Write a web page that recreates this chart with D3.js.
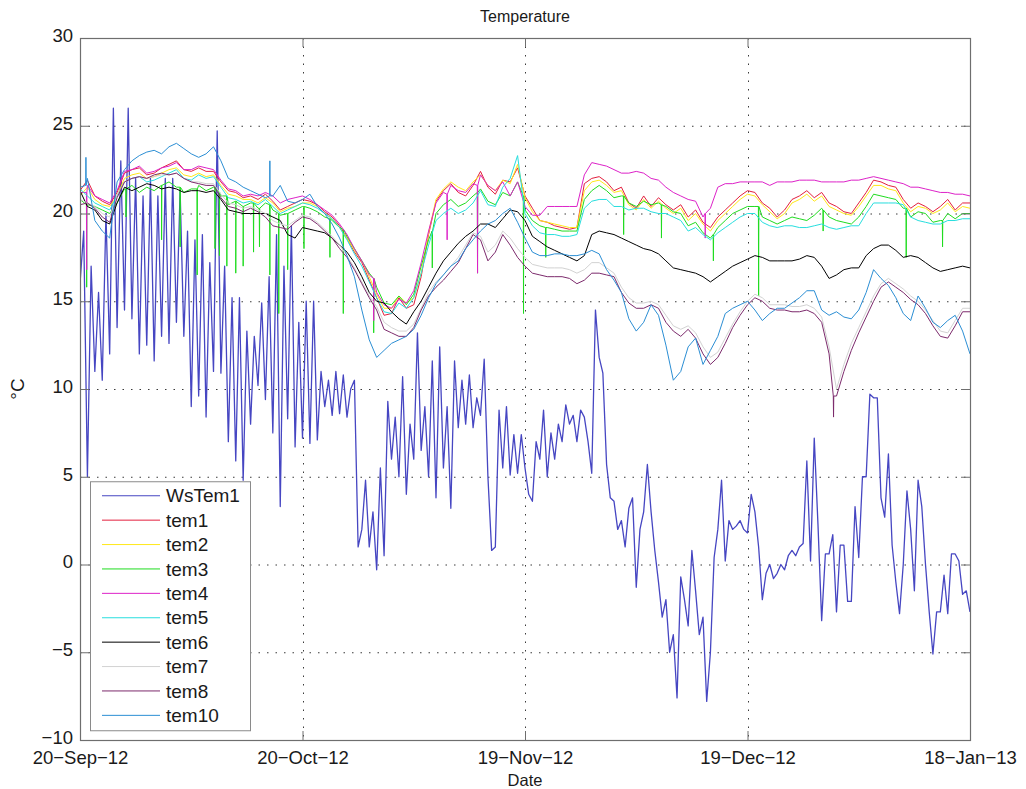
<!DOCTYPE html>
<html>
<head>
<meta charset="utf-8">
<script src="https://cdn.jsdelivr.net/npm/d3@7"></script>
<style>
body { margin: 0; background: #fff; }
text { font-family: "Liberation Sans", Arial, sans-serif; fill: #1a1a1a; }
</style>
</head>
<body>
<div id="chart"></div>
<script>
// ---- data ----
var startDay = "2012-09-20";
var tickDates = ["2012-09-20", "2012-10-20", "2012-11-19", "2012-12-19", "2013-01-18"];
var yTicks = [-10, -5, 0, 5, 10, 15, 20, 25, 30];
var seriesNames = ["WsTem1", "tem1", "tem2", "tem3", "tem4", "tem5", "tem6", "tem7", "tem8", "tem10"];
var seriesColors = ["#4646c2", "#e3203e", "#ffe81a", "#1fdc1f", "#dd22c8", "#27dede", "#000000", "#d2d2d2", "#7c2a6c", "#2b8ed4"];

// outdoor sensor, one value every half day
var wsTem1 = [
  16, 19, 5, 17, 11, 15.5, 10.5, 20, 12, 26, 13.5, 23, 14.5, 26, 14, 22, 12, 21, 12.5, 22,
  11.6, 21, 13, 22, 12.6, 22, 13.8, 21.3, 13, 19, 9, 18.5, 9.6, 18.8, 8.4, 17.2, 11, 24.7, 10.9, 17,
  7, 15.2, 5.9, 15.2, 4.8, 13.3, 8, 13, 10.2, 14.9, 9.4, 16.4, 7.5, 18.8, 3.3, 17, 8.3, 19.3, 6.7, 13.8,
  7.2, 15, 6.9, 15, 7.1, 11, 9, 10.5, 8.5, 11, 8.6, 10.8, 8.4, 10, 10.5, 1, 2, 4.8, 1, 3,
  -0.3, 5.5, 0.5, 9.3, 6, 8.4, 5, 10.7, 4, 8, 6, 13.2, 6.5, 9, 5, 11.6, 3.8, 12.4, 5.5, 9,
  3.2, 11.6, 7.8, 10.5, 8, 10.8, 7.8, 9.5, 8.5, 11.7, 5, 0.8, 1, 8.8, 5.5, 9, 5.1, 7.4, 5.2, 7.4,
  5.5, 4, 3.6, 7, 6, 8.8, 5, 7.5, 6, 8, 7, 9.1, 8, 8.5, 7, 8.8, 8.4, 7, 5.2, 14.5,
  11.8, 10.9, 5.7, 3.8, 3.6, 2, 2.5, 1, 3.2, 3.8, -1.3, 2, 3, 5.7, 3, 0.8, -1, -3, -2, -5,
  -4, -7.6, -0.7, -2, -3.5, 0.8, -1.5, -4, -3, -7.8, -5, 0.4, 2, 4.8, 0.2, 2.5, 2, 2.2, 2.5, 2,
  1.8, 4, 3, 1, -2, -0.5, 0, -0.8, -0.5, 0, -0.3, 0.5, 0.8, 0.5, 1, 1.2, 5.9, 0.2, 7.2, 2.3,
  -3.2, 0.6, 0.6, 1.7, -2.7, 1.1, 1.1, -2.1, -2.1, 3.3, 0.4, 5, 5, 9.7, 9.5, 9.5, 3.8, 2.7, 6.3, 1.1,
  -1, -2.8, 0, 4.2, 2, -1.5, 4.8, 3.3, 0, -2.7, -5.1, -2.7, -2.7, -0.6, -2.8, 0.6, 0.6, 0.2, -1.7, -1.5,
  -2.7
];

// indoor sensors, one value per day
var tem1 = [
  21.3, 21.9, 21.0, 20.7, 20.5, 21.2, 22.3, 22.5, 22.6, 22.2,
  22.3, 22.6, 22.8, 23.0, 22.5, 22.4, 22.6, 22.4, 22.4, 21.8,
  21.3, 21.2, 20.9, 21.0, 20.8, 21.1, 20.7, 20.2, 20.4, 20.6,
  20.8, 20.7, 20.5, 20.1, 19.8, 19.3, 18.6, 17.8, 17.2, 16.2,
  15.2, 14.2, 14.3, 15.2, 14.6, 14.8, 16.4, 18.8, 20.7, 21.3,
  21.7, 21.2, 21.0, 21.6, 22.4, 21.5, 21.1, 21.9, 21.8, 22.6,
  21.0, 20.3, 19.6, 19.5, 19.3, 19.2, 19.1, 19.2, 21.7, 22.0,
  22.1, 21.8, 21.3, 21.5, 20.6, 20.3, 21.0, 20.4, 20.9, 20.5,
  20.2, 20.5, 19.8, 20.2, 19.5, 19.2, 19.8, 20.2, 20.6, 21.0,
  21.3, 21.2, 20.6, 20.3, 19.8, 20.2, 20.8, 21.0, 21.3, 20.9,
  21.2, 20.6, 20.4, 20.1, 20.0, 20.6, 21.2, 21.9, 21.8, 21.6,
  21.5, 20.8, 20.3, 20.6, 20.4, 20.1, 20.4, 20.8, 20.2, 20.6,
  20.6
];
var tem2 = [
  21.0, 21.5, 20.8, 20.5, 20.4, 21.0, 22.0, 22.2, 22.3, 22.0,
  22.1, 22.3, 22.5, 22.6, 22.2, 22.1, 22.3, 22.1, 22.2, 21.6,
  21.1, 21.0, 20.8, 20.8, 20.6, 20.9, 20.6, 20.1, 20.3, 20.4,
  20.6, 20.6, 20.4, 20.0, 19.7, 19.2, 18.6, 17.9, 17.3, 16.4,
  15.4, 14.6, 14.6, 15.3, 14.9, 15.2, 16.6, 18.9, 20.8, 21.4,
  21.8, 21.5, 21.3, 21.8, 22.2, 21.6, 21.3, 21.9, 21.7, 22.8,
  20.9, 20.1, 19.6, 19.5, 19.4, 19.3, 19.2, 19.2, 21.3, 21.8,
  21.9, 21.6, 21.2, 21.3, 20.5, 20.2, 20.8, 20.3, 20.7, 20.3,
  20.0, 20.3, 19.6, 20.0, 19.4, 19.0, 19.6, 20.0, 20.4, 20.8,
  21.1, 21.0, 20.5, 20.1, 19.7, 20.0, 20.6, 20.8, 21.1, 20.7,
  21.0, 20.4, 20.2, 20.0, 19.9, 20.4, 21.0, 21.6, 21.6, 21.4,
  21.3, 20.6, 20.1, 20.4, 20.3, 20.0, 20.2, 20.6, 20.1, 20.4,
  20.3
];
var tem3 = [
  20.8, 20.5, 20.4, 20.2, 20.0, 20.6, 21.4, 21.6, 21.2, 21.5,
  21.3, 21.6, 21.8, 21.5, 21.2, 21.4, 21.6, 21.3, 21.5, 21.0,
  20.5, 20.7, 20.4, 20.6, 20.3, 20.6, 20.2, 19.9, 20.0, 20.2,
  20.4, 20.3, 20.1, 19.8, 19.6, 19.2, 18.7, 18.0, 17.3, 16.6,
  15.8, 14.9, 14.8, 15.3, 14.8, 15.4, 17.0, 18.5, 20.0, 20.5,
  20.8, 20.4, 20.6, 21.0, 21.4, 20.7, 20.5, 21.2, 21.0, 21.8,
  20.2, 19.6, 19.3, 19.2, 19.1, 19.0, 19.0, 19.0, 20.8, 21.3,
  21.6, 21.3, 20.9, 21.0, 20.6, 20.4, 20.7, 20.5, 20.6, 20.4,
  20.1, 20.0, 19.3, 19.5, 18.9, 18.6, 19.2, 19.6, 20.0, 20.2,
  20.4, 20.4, 19.8, 19.6, 19.4, 19.6, 19.8, 19.7, 19.6, 19.9,
  20.3, 19.8, 19.6, 19.5, 19.4, 19.8, 20.4, 21.1, 21.0, 20.9,
  20.8, 20.3, 19.8, 20.1, 20.0, 19.5, 19.6, 20.0, 19.7, 20.0,
  20.0
];
var tem4 = [
  21.2, 21.6, 21.0, 20.8, 20.6, 21.3, 22.4, 22.5, 22.7, 22.3,
  22.4, 22.6, 22.7, 22.9, 22.5, 22.5, 22.7, 22.6, 22.5, 21.9,
  21.4, 21.3, 21.0, 21.1, 21.0, 21.2, 21.0, 20.6, 20.8, 20.9,
  21.0, 20.8, 20.5, 20.2, 19.9, 19.4, 18.8, 18.0, 17.3, 16.5,
  15.5, 14.8, 14.6, 15.1, 14.9, 15.6, 17.2, 19.0, 20.6, 21.2,
  21.6, 21.3, 21.2, 21.7, 22.2, 21.6, 21.3, 21.8, 21.0, 21.8,
  20.4, 19.9, 19.9, 20.4, 20.4, 20.4, 20.4, 20.4, 22.2, 22.9,
  22.8, 22.7, 22.5, 22.3, 22.3, 22.4, 22.3, 22.0, 21.9, 21.5,
  21.2, 21.0, 20.8, 20.7, 19.8, 20.3, 21.5, 21.7, 21.7, 21.8,
  21.8, 21.8, 21.8, 21.6, 21.8, 21.8, 21.8, 21.9, 21.9, 21.9,
  21.8, 21.8, 21.8, 21.8, 21.9, 21.9, 22.0, 22.1, 22.0, 21.9,
  21.8, 21.7, 21.5, 21.5, 21.4, 21.3, 21.2, 21.2, 21.1, 21.1,
  21.0
];
var tem5 = [
  21.4, 21.0, 20.6, 20.4, 20.2, 21.0, 21.8, 22.0, 22.1, 21.8,
  21.9, 22.1, 22.3, 22.5, 22.0, 21.9, 22.2, 22.0, 22.1, 21.5,
  20.9, 20.8, 20.6, 20.7, 20.5, 20.8, 20.4, 20.0, 20.2, 20.4,
  20.6, 20.5, 20.3, 20.0, 19.7, 19.2, 18.5, 17.7, 17.0, 16.1,
  15.2, 14.4, 14.3, 14.9, 14.6, 15.2, 16.6, 18.2, 19.6, 20.0,
  20.3, 20.0, 20.2, 20.6, 21.3, 20.5, 20.4, 21.5, 22.0, 23.3,
  20.0, 19.3, 18.9, 18.8, 18.8, 18.7, 18.7, 18.8, 20.3, 20.7,
  20.8, 20.8, 20.4, 20.4, 20.2, 20.3, 20.3, 20.1, 20.0, 20.0,
  19.8, 19.6, 19.0, 19.2, 18.8, 18.5, 18.9, 19.2, 19.5, 19.8,
  20.0, 20.0, 19.5, 19.3, 19.2, 19.3, 19.3, 19.2, 19.2, 19.3,
  19.4, 19.2, 19.1, 19.2, 19.3, 19.3, 20.0, 20.6, 20.6, 20.6,
  20.6, 20.5, 19.8, 19.6, 19.5, 19.4, 19.4, 19.6, 19.6, 19.7,
  19.7
];
var tem6 = [
  21.3, 20.4, 20.2, 19.6, 19.4, 20.6, 21.5, 21.3, 21.5, 21.7,
  21.6, 21.4, 21.5, 21.4, 21.2, 21.3, 21.3, 21.2, 21.3, 20.8,
  20.2, 20.1, 20.0, 20.0, 20.0, 20.0, 19.8, 19.6, 18.8, 18.6,
  19.2, 19.1, 19.0, 18.9, 18.6, 18.2, 17.8, 17.2, 16.4, 15.5,
  15.0, 14.9, 14.4, 14.0, 13.7, 14.4, 15.0, 15.8, 16.6, 17.3,
  17.8, 18.3, 18.7, 19.0, 19.4, 19.4, 19.2, 19.7, 20.2, 20.1,
  19.6, 18.7, 18.4, 18.1, 17.9, 17.7, 17.5, 17.3, 17.6, 18.8,
  19.0, 18.9, 18.8, 18.6, 18.4, 18.2, 18.0, 17.9, 17.7, 17.3,
  16.9, 16.8, 16.7, 16.6, 16.4, 16.1, 16.4, 16.7, 17.0, 17.2,
  17.4, 17.6, 17.5, 17.3, 17.3, 17.3, 17.3, 17.4, 17.6, 17.5,
  17.0, 16.3, 16.5, 16.8, 16.9, 16.9, 17.6, 18.0, 18.2, 18.2,
  17.9, 17.5, 17.6, 17.5, 17.2, 16.9, 16.7, 16.8, 16.9, 17.0,
  16.9
];
var tem7 = [
  20.8, 20.6, 20.4, 20.0, 19.8, 21.0, 21.8, 22.0, 22.1, 22.0,
  22.1, 22.2, 22.2, 22.3, 22.0, 21.8, 21.8, 21.7, 21.7, 21.1,
  20.6, 20.5, 20.3, 20.4, 20.2, 20.0, 19.6, 19.4, 19.3, 19.6,
  19.9, 19.8, 19.5, 19.1, 18.7, 18.2, 17.6, 16.9, 16.1, 15.3,
  14.7, 13.8, 13.5, 13.3, 13.3, 13.7, 14.6, 15.5, 16.1, 16.5,
  17.0, 17.5, 18.2, 18.9, 18.7, 17.8, 18.2, 19.0, 18.6, 18.0,
  17.5, 17.1, 17.0, 16.9, 16.9, 16.9, 16.8, 16.6, 16.8, 17.2,
  17.2, 16.9, 16.6, 15.8, 15.2, 14.9, 14.9, 15.0, 14.8, 14.2,
  13.6, 13.4, 13.6, 13.2, 12.4, 11.8, 12.1, 12.9, 13.7, 14.4,
  15.0, 15.4, 15.2, 14.8, 14.8, 14.8, 14.7, 14.7, 14.8, 14.6,
  14.1, 12.4, 10.0, 11.4, 12.6, 13.5, 14.4, 15.3, 16.0, 16.3,
  16.0, 15.7, 15.3, 15.0, 14.5, 13.9, 13.3, 13.2, 13.9, 14.6,
  14.6
];
var tem8 = [
  20.5, 20.6, 20.3, 19.8, 19.5, 20.9, 21.8, 22.0, 22.1, 22.0,
  22.2, 22.3, 22.2, 22.3, 22.0, 21.8, 21.7, 21.6, 21.6, 20.9,
  20.4, 20.3, 20.1, 20.3, 20.1, 19.8, 19.3, 19.2, 19.1, 19.5,
  19.8, 19.7, 19.4, 19.0, 18.6, 18.0, 17.5, 16.8, 16.0, 15.2,
  14.5, 13.4, 13.2, 13.0, 13.0, 13.5, 14.5, 15.3, 15.8, 16.2,
  16.7, 17.2, 18.0, 18.8, 18.5, 17.3, 17.8, 18.8, 18.2, 17.5,
  17.0, 16.6, 16.5, 16.4, 16.4, 16.4, 16.3, 16.0, 16.2, 16.6,
  16.6, 16.5, 16.4, 15.5, 14.9, 14.6, 14.6, 14.8, 14.6, 13.8,
  13.3, 13.0, 13.4, 12.9, 12.0, 11.4, 11.8, 12.6, 13.5, 14.2,
  14.8, 15.2, 15.0, 14.6, 14.5, 14.5, 14.4, 14.4, 14.5, 14.3,
  13.8, 12.0, 9.6, 11.0, 12.2, 13.2, 14.1, 15.0, 15.8, 16.1,
  15.8, 15.5, 15.1, 14.8, 14.3, 13.6, 13.0, 12.9, 13.6, 14.4,
  14.4
];
var tem10 = [
  21.5, 22.0, 19.6, 19.0, 18.6, 21.8, 22.5, 23.0, 23.3, 23.5,
  23.6, 23.4, 23.8, 24.0, 23.7, 23.4, 23.2, 23.4, 23.8, 23.0,
  22.0, 21.8, 21.5, 21.3, 21.1, 20.9, 21.0, 21.6, 20.7, 20.6,
  20.8, 21.1, 20.4, 20.0, 19.4, 18.6, 17.6, 16.4, 14.5, 12.8,
  11.8, 12.2, 12.6, 12.8, 13.0, 13.4, 14.2, 15.2, 16.0, 16.5,
  17.0, 17.3, 18.0, 18.5, 19.0, 19.4, 19.6, 20.0, 20.3, 19.5,
  18.6, 17.8, 17.6, 17.6, 17.7, 17.7, 17.6, 17.6, 17.7, 17.9,
  17.7, 16.8, 16.2, 15.5, 14.0, 13.3, 13.8, 14.8, 14.2, 12.5,
  10.5, 11.0, 12.4, 12.9, 11.4, 12.2, 13.0, 14.3, 14.6, 14.8,
  15.0, 14.5, 13.9, 14.3, 14.6, 14.6, 14.9, 15.2, 15.6, 15.6,
  14.5, 14.2, 14.4, 14.1, 14.0, 14.5, 15.5, 16.8, 16.3, 15.9,
  15.2, 14.3, 13.9, 15.3, 14.6, 13.8, 13.5, 13.9, 14.2, 13.3,
  12.0
];

// short spikes: [day, extreme value, level around it]
var tem3Spikes = [
  [0.9, 15.8, 20.5], [6.2, 19.8, 21.4], [11.0, 18.5, 21.6], [13.5, 18.1, 21.5], [15.8, 16.5, 21.4],
  [18.2, 18.0, 21.5], [18.8, 17.6, 21.2], [19.8, 17.0, 21.0], [21.0, 16.6, 20.7], [22.0, 17.0, 20.4],
  [23.4, 17.8, 20.6], [24.2, 18.1, 20.3], [25.6, 16.5, 20.5], [26.8, 14.3, 20.0], [28.0, 16.8, 20.0],
  [30.2, 18.0, 20.4], [33.7, 17.5, 19.7], [35.5, 14.3, 19.1], [39.6, 13.2, 16.3], [47.5, 16.9, 19.0],
  [53.6, 16.6, 21.2], [59.8, 14.3, 21.0], [62.8, 17.5, 19.2], [73.3, 18.8, 21.0], [78.4, 18.6, 20.5],
  [85.4, 17.3, 18.8], [91.5, 15.3, 20.4], [100.2, 19.0, 20.2], [111.4, 17.5, 20.3], [116.3, 18.1, 19.6]
];
var tem4Spikes = [[0.9, 16.8, 21.2], [39.6, 13.9, 16.3], [49.5, 18.5, 21.1], [53.6, 16.6, 21.6], [84.3, 18.6, 20.0]];
var tem8Spikes = [[101.6, 8.4, 9.6]];
var tem10Spikes = [[0.8, 23.2, 21.6], [25.6, 23.0, 21.0]];

// ---- layout ----
var W = 1026, H = 789;
var margin = {top: 38, right: 56, bottom: 49, left: 80},
    width = W - margin.left - margin.right,
    height = H - margin.top - margin.bottom;

var parseDay = d3.timeParse("%Y-%m-%d");
var t0 = parseDay(startDay);
var dayDate = d => new Date(t0.getTime() + d * 864e5);

var xScale = d3.scaleTime()
    .domain([parseDay(tickDates[0]), parseDay(tickDates[tickDates.length - 1])])
    .range([0, width]);
var yScale = d3.scaleLinear()
    .domain([-10, 30])
    .range([height, 0]);

var svg = d3.select("#chart").append("svg")
    .attr("width", W)
    .attr("height", H)
    .style("display", "block")
  .append("g")
    .attr("transform", "translate(" + margin.left + "," + margin.top + ")");

var xTickVals = tickDates.map(parseDay);

// grid
var grid = svg.append("g").attr("class", "grid")
    .attr("stroke", "#3a3a3a")
    .attr("stroke-width", 1)
    .attr("stroke-dasharray", "1.5,7");
grid.selectAll(".gy")
    .data(yTicks.slice(1, -1))
  .enter().append("line")
    .attr("x1", 0).attr("x2", width)
    .attr("y1", d => yScale(d) + 0.5).attr("y2", d => yScale(d) + 0.5);
grid.selectAll(".gx")
    .data(xTickVals.slice(1, -1))
  .enter().append("line")
    .attr("y1", 0).attr("y2", height)
    .attr("x1", d => Math.round(xScale(d)) + 0.5).attr("x2", d => Math.round(xScale(d)) + 0.5);

// series
function spiked(pts, spikes) {
  spikes.forEach(s => {
    pts.push({d: s[0] - 0.03, v: s[2]}, {d: s[0], v: s[1]}, {d: s[0] + 0.03, v: s[2]});
  });
  return pts.sort((a, b) => a.d - b.d);
}
var perDay = arr => arr.map((v, i) => ({d: i, v: v}));

var series = [
  wsTem1.map((v, i) => ({d: i * 0.5, v: v})),
  perDay(tem1),
  perDay(tem2),
  spiked(perDay(tem3), tem3Spikes),
  spiked(perDay(tem4), tem4Spikes),
  perDay(tem5),
  perDay(tem6),
  perDay(tem7),
  spiked(perDay(tem8), tem8Spikes),
  spiked(perDay(tem10), tem10Spikes)
];

svg.append("clipPath").attr("id", "clip")
  .append("rect").attr("width", width).attr("height", height);

var line = d3.line()
    .x(p => xScale(dayDate(p.d)))
    .y(p => yScale(p.v));

svg.append("g").attr("clip-path", "url(#clip)")
  .selectAll("path")
    .data(series)
  .enter().append("path")
    .attr("fill", "none")
    .attr("stroke", (d, i) => seriesColors[i])
    .attr("stroke-width", (d, i) => i === 0 ? 1.3 : 1)
    .attr("stroke-linejoin", "round")
    .attr("d", line);

// axes (MATLAB style: ticks inside, box all round)
var boxColor = "#6e6e6e";
function styleAxis(g) {
  g.select(".domain").remove();
  g.selectAll(".tick line").attr("stroke", boxColor);
  g.selectAll(".tick text")
    .attr("font-size", 18.5)
    .attr("fill", "#1a1a1a")
    .attr("font-family", '"Liberation Sans", Arial, sans-serif');
}

svg.append("g")
    .attr("transform", "translate(0," + height + ")")
    .call(d3.axisBottom(xScale)
      .tickValues(xTickVals)
      .tickFormat(d3.timeFormat("%d\u2212%b\u2212%y"))
      .tickSizeInner(-9).tickSizeOuter(0).tickPadding(11))
    .call(styleAxis);
svg.append("g")
    .call(d3.axisTop(xScale)
      .tickValues(xTickVals).tickFormat("")
      .tickSizeInner(-9).tickSizeOuter(0))
    .call(styleAxis);
svg.append("g")
    .call(d3.axisLeft(yScale)
      .tickValues(yTicks)
      .tickSizeInner(-9).tickSizeOuter(0).tickPadding(7))
    .call(styleAxis)
    .call(g => g.selectAll(".tick text").attr("dy", "0.18em"));
svg.append("g")
    .attr("transform", "translate(" + width + ",0)")
    .call(d3.axisRight(yScale)
      .tickValues(yTicks).tickFormat("")
      .tickSizeInner(-9).tickSizeOuter(0))
    .call(styleAxis);

svg.append("rect")
    .attr("x", 0.5).attr("y", 0.5)
    .attr("width", width).attr("height", height)
    .attr("fill", "none")
    .attr("stroke", boxColor)
    .attr("stroke-width", 1.2);

// titles
svg.append("text")
    .attr("x", width / 2).attr("y", -16)
    .attr("text-anchor", "middle")
    .attr("font-size", 16)
    .text("Temperature");
svg.append("text")
    .attr("x", width / 2).attr("y", height + 45.5)
    .attr("text-anchor", "middle")
    .attr("font-size", 16.5)
    .text("Date");
svg.append("text")
    .attr("transform", "translate(-56," + (height / 2) + ") rotate(-90)")
    .attr("text-anchor", "middle")
    .attr("font-size", 19)
    .text("\u00b0C");

// legend
var legend = svg.append("g")
    .attr("transform", "translate(10," + (yScale(5) + 4.5) + ")");
legend.append("rect")
    .attr("x", 0.5).attr("y", 0.5)
    .attr("width", 160).attr("height", 249)
    .attr("fill", "#fff")
    .attr("stroke", "#8a8a8a");
var item = legend.selectAll(".item")
    .data(seriesNames)
  .enter().append("g")
    .attr("transform", (d, i) => "translate(0," + (14.5 + i * 24.4) + ")");
item.append("line")
    .attr("x1", 12).attr("x2", 70)
    .attr("stroke", (d, i) => seriesColors[i])
    .attr("stroke-width", 1);
item.append("text")
    .attr("x", 76).attr("dy", "0.35em")
    .attr("font-size", 19)
    .text(d => d);
</script>
</body>
</html>
